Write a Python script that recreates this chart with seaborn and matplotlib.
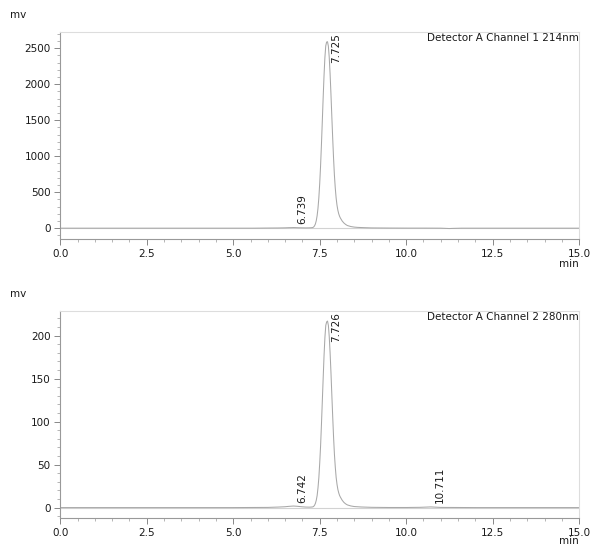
import matplotlib
matplotlib.use("Agg")
import matplotlib.pyplot as plt
from matplotlib.ticker import MultipleLocator, FormatStrFormatter
import seaborn as sns
import pandas as pd

# ---- Channel 1 (214 nm) trace ----
ch1_time = [0.0, 5.0, 5.6, 6.0, 6.3, 6.5, 6.6, 6.7, 6.739, 6.8, 6.9, 7.0, 7.1, 7.2, 7.25,
            7.3, 7.325, 7.35, 7.375, 7.4, 7.425, 7.45, 7.475, 7.5, 7.525, 7.55, 7.575,
            7.6, 7.625, 7.65, 7.675, 7.7, 7.725, 7.75, 7.775, 7.8, 7.825, 7.85, 7.875,
            7.9, 7.925, 7.95, 7.975, 8.0, 8.025, 8.05, 8.075, 8.1, 8.15, 8.2, 8.25, 8.3,
            8.4, 8.5, 8.6, 8.8, 9.0, 9.5, 10.0, 10.5, 11.0, 11.15, 11.25, 11.35, 11.6, 12.0, 15.0]
ch1_mv = [0, 0, 0, 2, 3, 5, 7, 8, 9, 8, 6, 5, 4, 5, 6,
          9, 17, 32, 58, 102, 171, 274, 420, 616, 862, 1155, 1478,
          1809, 2116, 2367, 2532, 2585, 2590, 2530, 2380, 2150, 1870, 1560, 1260,
          980, 740, 560, 420, 320, 250, 200, 165, 140, 100, 72, 52, 37,
          23, 15, 11, 7, 4, 2, 1, 1, 0, -3, -5, -3, 0, 0, 0]
ch1_peaks = [6.739, 7.725]
ch1_peak_mv = [9, 2590]

# ---- Channel 2 (280 nm) trace ----
ch2_time = [0.0, 5.0, 6.0, 6.3, 6.5, 6.6, 6.742, 6.85, 7.0, 7.1, 7.2, 7.25,
            7.301, 7.326, 7.351, 7.376, 7.401, 7.426, 7.451, 7.476, 7.501, 7.526, 7.551, 7.576,
            7.601, 7.626, 7.651, 7.676, 7.701, 7.726, 7.751, 7.776, 7.801, 7.826, 7.851, 7.876,
            7.901, 7.926, 7.951, 7.976, 8.001, 8.026, 8.051, 8.076, 8.101, 8.151, 8.201, 8.251, 8.301,
            8.4, 8.5, 8.7, 9.0, 9.5, 10.0, 10.4, 10.6, 10.711, 10.85, 11.0, 12.0, 15.0]
ch2_mv = [0, 0, 0.2, 0.6, 1.0, 1.4, 1.8, 1.5, 0.9, 0.6, 0.5, 0.6,
          0.8, 1.4, 2.7, 4.9, 8.5, 14, 23, 35, 52, 72, 97, 124,
          151, 177, 198, 212, 216, 217, 212, 199, 180, 157, 131, 106,
          82, 62, 47, 35, 27, 21, 17, 14, 12, 8.5, 6, 4.3, 3.1,
          1.9, 1.2, 0.7, 0.3, 0.1, 0.1, 0.3, 0.6, 0.8, 0.5, 0.2, 0, 0]
ch2_peaks = [6.742, 7.726, 10.711]
ch2_peak_mv = [1.8, 217, 0.8]

panels = [
    dict(t=ch1_time, y=ch1_mv, peaks=ch1_peaks, pk=ch1_peak_mv,
         title="Detector A Channel 1 214nm", ylim=(-150, 2725), major=500, minor=100,
         rect=[0.101, 0.5717, 0.869, 0.371], mv_y=0.973, min_y=0.527),
    dict(t=ch2_time, y=ch2_mv, peaks=ch2_peaks, pk=ch2_peak_mv,
         title="Detector A Channel 2 280nm", ylim=(-12.5, 229), major=50, minor=10,
         rect=[0.101, 0.0711, 0.869, 0.372], mv_y=0.473, min_y=0.030),
]

sns.set_style("white")
plt.rcParams['font.family'] = ['DejaVu Sans']
FS = 7.5
TXT = "#1a1a1a"

fig = plt.figure(figsize=(5.97, 5.58), dpi=100)

for p in panels:
    ax = fig.add_axes(p["rect"])
    df = pd.DataFrame({"time": p["t"], "mv": p["y"]})
    ax.axhline(0, color="#d2d2d2", lw=0.8, zorder=1)
    sns.lineplot(data=df, x="time", y="mv", ax=ax, color="#a8a8a8", lw=0.75, zorder=2)
    ax.set_xlim(0, 15)
    ax.set_ylim(*p["ylim"])
    ax.set_xlabel("")
    ax.set_ylabel("")
    ax.xaxis.set_major_locator(MultipleLocator(2.5))
    ax.xaxis.set_minor_locator(MultipleLocator(0.5))
    ax.xaxis.set_major_formatter(FormatStrFormatter("%.1f"))
    ax.yaxis.set_major_locator(MultipleLocator(p["major"]))
    ax.yaxis.set_minor_locator(MultipleLocator(p["minor"]))
    ax.tick_params(axis="both", which="major", length=4, width=0.7, color="#888888",
                   labelsize=FS, labelcolor=TXT, pad=3, direction="out")
    ax.tick_params(axis="both", which="minor", length=2, width=0.6, color="#aaaaaa", direction="out")
    ax.tick_params(axis="x", which="both", bottom=True)
    ax.tick_params(axis="y", which="both", left=True)
    for s in ["top", "right"]:
        ax.spines[s].set_color("#dddddd")
        ax.spines[s].set_linewidth(0.8)
    for s in ["left", "bottom"]:
        ax.spines[s].set_color("#999999")
        ax.spines[s].set_linewidth(0.8)
    ax.text(1.0, 0.995, p["title"], transform=ax.transAxes, ha="right", va="top",
            fontsize=FS, color=TXT)
    top = p["ylim"][1]
    big = max(p["pk"])
    for t, v in zip(p["peaks"], p["pk"]):
        if v == big:
            ax.annotate(f"{t:.3f}", xy=(t, top), xytext=(6.3, -1), textcoords="offset points",
                        rotation=90, ha="center", va="top", fontsize=FS, color=TXT)
        else:
            ax.annotate(f"{t:.3f}", xy=(t, v), xytext=(6.2, 2.5), textcoords="offset points",
                        rotation=90, ha="center", va="bottom", fontsize=FS, color=TXT)
    fig.text(0.017, p["mv_y"], "mv", ha="left", va="center", fontsize=FS, color=TXT)
    fig.text(0.970, p["min_y"], "min", ha="right", va="center", fontsize=FS, color=TXT)

fig.savefig("out.png", dpi=100)
